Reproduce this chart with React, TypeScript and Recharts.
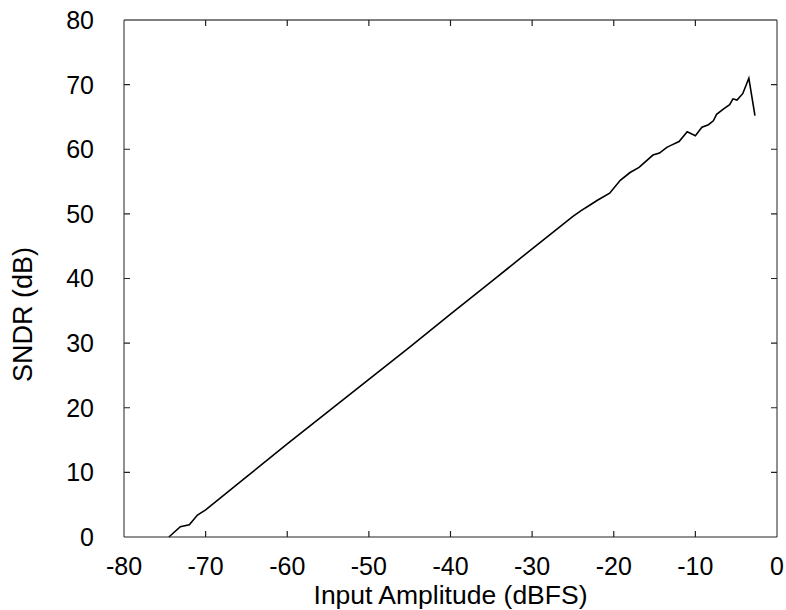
import { LineChart, Line, XAxis, YAxis } from "recharts";

const inputDbfs = [
  -74.5, -73.1, -72.0, -71.0, -70.0, -65, -60, -55, -50, -45, -40, -35, -30, -25,
  -24, -23, -22, -20.5, -19.2, -18.0, -16.9, -15.2, -14.4, -13.5, -13.0, -12.0,
  -11.0, -10.0, -9.2, -8.4, -7.8, -7.4, -6.5, -5.8, -5.4, -4.9, -4.2, -3.45, -2.7,
];
const sndrDb = [
  0.0, 1.6, 1.9, 3.4, 4.2, 9.3, 14.4, 19.4, 24.4, 29.4, 34.5, 39.5, 44.6, 49.6,
  50.5, 51.3, 52.1, 53.2, 55.2, 56.4, 57.2, 59.1, 59.4, 60.3, 60.6, 61.2,
  62.7, 62.1, 63.4, 63.8, 64.4, 65.4, 66.3, 66.9, 67.8, 67.6, 68.6, 71.0, 65.2,
];
const xTicks = [-80, -70, -60, -50, -40, -30, -20, -10, 0];
const yTicks = [0, 10, 20, 30, 40, 50, 60, 70, 80];

const data = inputDbfs.map((x, i) => ({ x, y: sndrDb[i] }));

const W = 786;
const H = 610;
const MARGIN = { top: 19, right: 8, bottom: 0, left: 0 };
const Y_AXIS_W = 124;
const X_AXIS_H = 73;
const X_DOMAIN: [number, number] = [-80, 0];
const Y_DOMAIN: [number, number] = [0, 80];

const FONT = "Liberation Sans, Arial, sans-serif";
const AXIS = "#222";
const TICK_LEN = 6;

const YLabel = (props: any) => {
  const { viewBox } = props;
  const cx = viewBox.x + 23;
  const cy = viewBox.y + viewBox.height / 2 + 36;
  return (
    <text
      x={cx}
      y={cy}
      transform={`rotate(-90, ${cx}, ${cy})`}
      textAnchor="middle"
      dominantBaseline="central"
      fontSize={27}
      fontFamily={FONT}
      fill="#000"
    >
      SNDR (dB)
    </text>
  );
};

// MATLAB-style inward tick marks on all four sides of the box
function BoxTicks() {
  const left = MARGIN.left + Y_AXIS_W;
  const right = W - MARGIN.right - 1;
  const top = MARGIN.top + 1;
  const bottom = H - MARGIN.bottom - X_AXIS_H;
  const px = (v: number) => left + ((v - X_DOMAIN[0]) / (X_DOMAIN[1] - X_DOMAIN[0])) * (right - left);
  const py = (v: number) => bottom - ((v - Y_DOMAIN[0]) / (Y_DOMAIN[1] - Y_DOMAIN[0])) * (bottom - top);
  let d = "";
  xTicks.slice(1, -1).forEach((t) => {
    const x = px(t);
    d += `M${x},${bottom}V${bottom - TICK_LEN}M${x},${top}V${top + TICK_LEN}`;
  });
  yTicks.slice(1, -1).forEach((t) => {
    const y = py(t);
    d += `M${left},${y}H${left + TICK_LEN}M${right},${y}H${right - TICK_LEN}`;
  });
  return (
    <svg
      width={W}
      height={H}
      style={{ position: "absolute", left: 0, top: 0, pointerEvents: "none" }}
    >
      <path d={d} stroke={AXIS} strokeWidth={1.2} fill="none" />
    </svg>
  );
}

export default function App() {
  const tickStyle = { fontSize: 25, fontFamily: FONT, fill: "#000" };
  return (
    <div style={{ position: "absolute", left: 0, top: 0, width: W, height: H, background: "#fff" }}>
      <LineChart width={W} height={H} data={data} margin={MARGIN}>
        <XAxis
          xAxisId="bottom"
          dataKey="x"
          type="number"
          domain={X_DOMAIN}
          ticks={xTicks}
          height={X_AXIS_H}
          tickLine={false}
          tickMargin={14}
          tick={tickStyle}
          stroke={AXIS}
          label={{
            value: "Input Amplitude (dBFS)",
            position: "insideBottom",
            offset: 6,
            fontSize: 26.5,
            fontFamily: FONT,
            fill: "#000",
          }}
        />
        <XAxis
          xAxisId="top"
          orientation="top"
          dataKey="x"
          type="number"
          domain={X_DOMAIN}
          ticks={xTicks}
          height={1}
          tick={false}
          tickLine={false}
          stroke="#000"
        />
        <YAxis
          yAxisId="left"
          type="number"
          domain={Y_DOMAIN}
          ticks={yTicks}
          width={Y_AXIS_W}
          tickLine={false}
          tickMargin={24}
          tick={tickStyle}
          stroke={AXIS}
          label={<YLabel />}
        />
        <YAxis
          yAxisId="right"
          orientation="right"
          type="number"
          domain={Y_DOMAIN}
          ticks={yTicks}
          width={1}
          tick={false}
          tickLine={false}
          stroke={AXIS}
        />
        <Line
          xAxisId="bottom"
          yAxisId="left"
          type="linear"
          dataKey="y"
          stroke="#000"
          strokeWidth={1.6}
          dot={false}
          isAnimationActive={false}
        />
      </LineChart>
      <BoxTicks />
    </div>
  );
}
